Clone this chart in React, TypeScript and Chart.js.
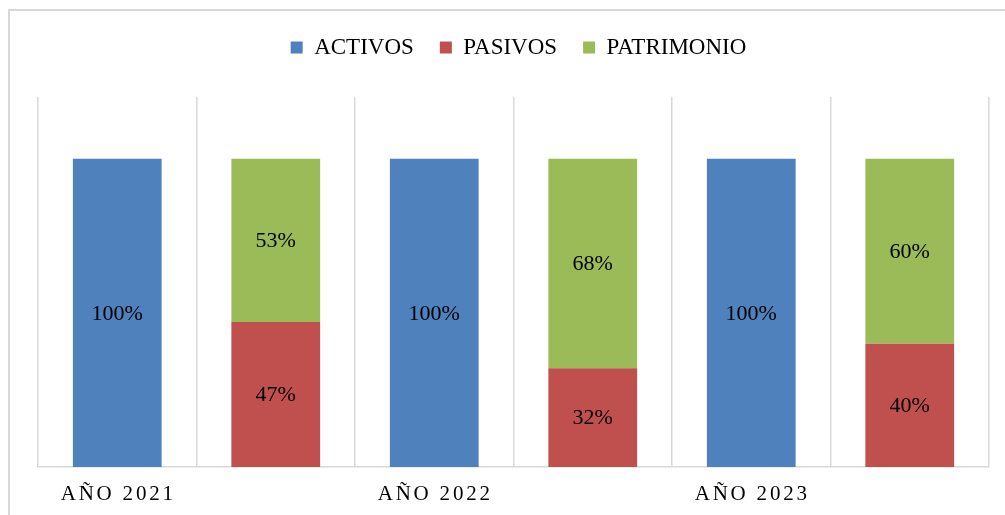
import React, { useEffect, useRef } from "react";
import { Chart, registerables } from "chart.js";

Chart.register(...registerables);

const categories = ["AÑO 2021", "", "AÑO 2022", "", "AÑO 2023", ""];
const activos = [1, null, 1, null, 1, null];
const pasivos = [null, 0.47, null, 0.32, null, 0.4];
const patrimonio = [null, 0.53, null, 0.68, null, 0.6];
const seriesNames = ["ACTIVOS", "PASIVOS", "PATRIMONIO"];
const seriesColors = ["#4F81BD", "#C0504D", "#9BBB59"];

const FONT = "'Liberation Serif', 'Times New Roman', serif";

const legendSpacer = {
  id: "legendSpacer",
  beforeLayout(chart: any) {
    const lg = chart.legend;
    if (lg && !lg._patched) {
      const f = lg.fit;
      lg.fit = function () {
        f.call(this);
        this.height += 27;
      };
      lg._patched = true;
    }
  },
  afterLayout(chart: any) {
    const lg = chart.legend;
    if (lg) {
      lg.left += 5;
      lg.right += 5;
      lg.top -= 1;
    }
  },
};

const barLabels = {
  id: "barLabels",
  afterDatasetsDraw(chart: any) {
    const ctx = chart.ctx;
    ctx.save();
    ctx.font = `22px ${FONT}`;
    ctx.fillStyle = "#000";
    ctx.textAlign = "center";
    ctx.textBaseline = "middle";
    chart.data.datasets.forEach((ds: any, di: number) => {
      const meta = chart.getDatasetMeta(di);
      meta.data.forEach((el: any, i: number) => {
        const v = ds.data[i];
        if (v == null) return;
        const y = (el.y + el.base) / 2;
        ctx.fillText(Math.round(v * 100) + "%", el.x, y + 1);
      });
    });
    ctx.restore();
  },
};

const xLabels = {
  id: "xLabels",
  afterDraw(chart: any) {
    const ctx = chart.ctx;
    const scale = chart.scales.x;
    ctx.save();
    ctx.font = `21px ${FONT}`;
    (ctx as any).letterSpacing = "2.8px";
    ctx.fillStyle = "#000";
    ctx.textAlign = "center";
    ctx.textBaseline = "middle";
    chart.data.labels.forEach((lab: string, i: number) => {
      if (!lab) return;
      ctx.fillText(lab, scale.getPixelForValue(i) + 1, chart.chartArea.bottom + 27);
    });
    ctx.restore();
  },
};

export default function App() {
  const ref = useRef<HTMLCanvasElement>(null);
  useEffect(() => {
    if (!ref.current) return;
    const chart = new Chart(ref.current, {
      type: "bar",
      data: {
        labels: categories,
        datasets: [
          { label: seriesNames[0], data: activos, backgroundColor: seriesColors[0] },
          { label: seriesNames[1], data: pasivos, backgroundColor: seriesColors[1] },
          { label: seriesNames[2], data: patrimonio, backgroundColor: seriesColors[2] },
        ] as any,
      },
      options: {
        responsive: false,
        animation: false,
        datasets: { bar: { categoryPercentage: 0.56, barPercentage: 1, skipNull: true } } as any,
        layout: { padding: { left: 28, right: 16, top: 0, bottom: 48 } },
        plugins: {
          legend: {
            position: "top",
            labels: {
              boxWidth: 12,
              boxHeight: 12,
              padding: 26,
              color: "#000",
              font: { family: FONT, size: 23 },
            },
          },
          tooltip: { enabled: false },
        },
        scales: {
          x: {
            stacked: true,
            ticks: { display: false },
            grid: { display: true, color: "#d9d9d9", lineWidth: 1.5, drawTicks: false, offset: true },
            border: { display: true, color: "#d9d9d9", width: 1.5 },
          },
          y: {
            stacked: true,
            display: false,
            min: 0,
            max: 1.2,
          },
        },
      },
      plugins: [legendSpacer, barLabels, xLabels],
    });
    return () => chart.destroy();
  }, []);
  return (
    <div
      style={{
        position: "fixed",
        left: 8,
        top: 9,
        width: 995,
        height: 504,
        borderLeft: "2px solid #d9d9d9",
        borderTop: "2px solid #d9d9d9",
        background: "#fff",
      }}
    >
      <canvas ref={ref} width={995} height={504} style={{ display: "block" }} />
    </div>
  );
}
